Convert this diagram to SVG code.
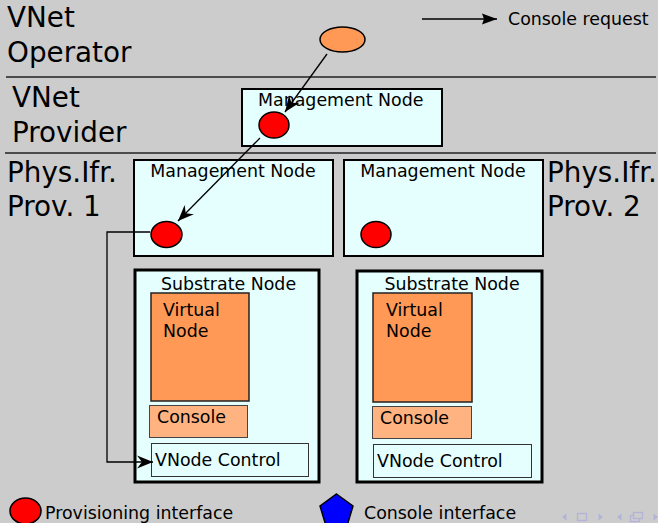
<svg xmlns="http://www.w3.org/2000/svg" width="658" height="523" viewBox="0 0 658 523">
<style>
text{font-family:"DejaVu Sans","Noto Sans",sans-serif;fill:#000}
.big{font-size:27.8px}
.sm{font-size:17.4px}
.box{fill:#e5ffff;stroke:#000;stroke-width:2}
.sub{fill:#e5ffff;stroke:#000;stroke-width:3}
.vn{fill:#ff9955;stroke:#222;stroke-width:1.5}
.con{fill:#ffb380;stroke:#444;stroke-width:1}
.ctl{fill:#e5ffff;stroke:#333;stroke-width:1}
.prov{fill:#ff0000;stroke:#000;stroke-width:1.5}
.sep{stroke:#222;stroke-width:1.5}
.edge{fill:none;stroke:#000;stroke-width:1.3}
.nav{fill:#b3b3da}
</style>
<defs>
<marker id="ah" viewBox="-17 -7 19 14" markerWidth="19" markerHeight="14" refX="0" refY="0" orient="auto" markerUnits="userSpaceOnUse">
<path d="M0,0 L-16,-6.5 L-11,0 L-16,6.5 z" fill="#000"/>
</marker>
<marker id="ah2" viewBox="-15 -6 17 12" markerWidth="17" markerHeight="12" refX="0" refY="0" orient="auto" markerUnits="userSpaceOnUse">
<path d="M0,0 L-15,-5.5 L-13,0 L-15,5.5 z" fill="#000"/>
</marker>
</defs>
<rect width="658" height="523" fill="#cccccc"/>
<line class="sep" x1="6" y1="77" x2="656" y2="77"/>
<line class="sep" x1="5" y1="153" x2="656" y2="153"/>
<g id="labels">
<text class="big" x="7" y="27">VNet</text>
<text class="big" x="7" y="62">Operator</text>
<text class="big" x="12" y="107">VNet</text>
<text class="big" x="12" y="142">Provider</text>
<text class="big" x="7" y="182">Phys.Ifr.</text>
<text class="big" x="7" y="216">Prov. 1</text>
<text class="big" x="547" y="182">Phys.Ifr.</text>
<text class="big" x="547" y="216">Prov. 2</text>
</g>
<g id="legend-request">
<line class="edge" x1="422" y1="19" x2="497" y2="19" marker-end="url(#ah2)"/>
<text class="sm" x="508" y="25">Console request</text>
</g>
<g id="operator">
<ellipse cx="342.5" cy="39.5" rx="22.5" ry="12.5" fill="#ff9955" stroke="#000" stroke-width="1.5"/>
</g>
<g id="vnet-mgmt">
<rect class="box" x="242" y="89" width="200" height="57"/>
<text class="sm" x="258" y="106">Management Node</text>
<ellipse class="prov" cx="274" cy="125" rx="15" ry="13"/>
</g>
<g id="phys1-mgmt">
<rect class="box" x="134" y="160" width="199" height="96"/>
<text class="sm" x="233" y="177" text-anchor="middle">Management Node</text>
<ellipse class="prov" cx="166.5" cy="234.5" rx="15.5" ry="13"/>
</g>
<g id="phys2-mgmt">
<rect class="box" x="344" y="160" width="199" height="96"/>
<text class="sm" x="443" y="177" text-anchor="middle">Management Node</text>
<ellipse class="prov" cx="376" cy="234.5" rx="15" ry="13"/>
</g>
<g id="substrate1">
<rect class="sub" x="135" y="270" width="184" height="212"/>
<text class="sm" x="228.5" y="290" text-anchor="middle">Substrate Node</text>
<rect class="vn" x="151" y="293" width="98" height="108"/>
<text class="sm" x="163" y="316">Virtual</text>
<text class="sm" x="163" y="337">Node</text>
<rect class="con" x="149.5" y="405.5" width="98" height="32"/>
<text class="sm" x="157" y="423">Console</text>
<rect class="ctl" x="151.5" y="443.5" width="157" height="33"/>
<text class="sm" x="155" y="466">VNode Control</text>
</g>
<g id="substrate2">
<rect class="sub" x="357" y="271" width="185" height="211"/>
<text class="sm" x="452" y="290" text-anchor="middle">Substrate Node</text>
<rect class="vn" x="373" y="293" width="99" height="109"/>
<text class="sm" x="386" y="316">Virtual</text>
<text class="sm" x="386" y="337">Node</text>
<rect class="con" x="372.5" y="406.5" width="99" height="32"/>
<text class="sm" x="380" y="424">Console</text>
<rect class="ctl" x="373.5" y="444.5" width="158" height="33"/>
<text class="sm" x="377" y="467">VNode Control</text>
</g>
<g id="connectors">
<line class="edge" x1="327" y1="54" x2="285" y2="112" marker-end="url(#ah)"/>
<line class="edge" x1="260" y1="138" x2="178" y2="221" marker-end="url(#ah)"/>
<polyline class="edge" points="150,232 107,232 107,462 153,462" marker-end="url(#ah)"/>
</g>
<g id="legend">
<ellipse class="prov" cx="25.5" cy="511" rx="15.5" ry="13"/>
<text class="sm" x="45" y="519">Provisioning interface</text>
<polygon points="336.5,494 353,506 347,526 326,526 320,506" fill="#0000ff" stroke="#000" stroke-width="1.5"/>
<text class="sm" x="364" y="519">Console interface</text>
</g>
<g id="nav">
<path class="nav" d="M562,517 L566.5,513.5 L566.5,520.5 z"/>
<rect x="577.5" y="513.5" width="9" height="7" fill="none" stroke="#b3b3da" stroke-width="1.3"/>
<path class="nav" d="M603,517 L598.5,513.5 L598.5,520.5 z"/>
<path class="nav" d="M617,517 L621.5,513.5 L621.5,520.5 z"/>
<rect x="630.5" y="515.5" width="9" height="6" fill="none" stroke="#b3b3da" stroke-width="1.3"/>
<rect x="633.5" y="512.5" width="9" height="6" fill="#cccccc" stroke="#b3b3da" stroke-width="1.3"/>
<path class="nav" d="M658,517 L653.5,513.5 L653.5,520.5 z"/>
</g>
</svg>
